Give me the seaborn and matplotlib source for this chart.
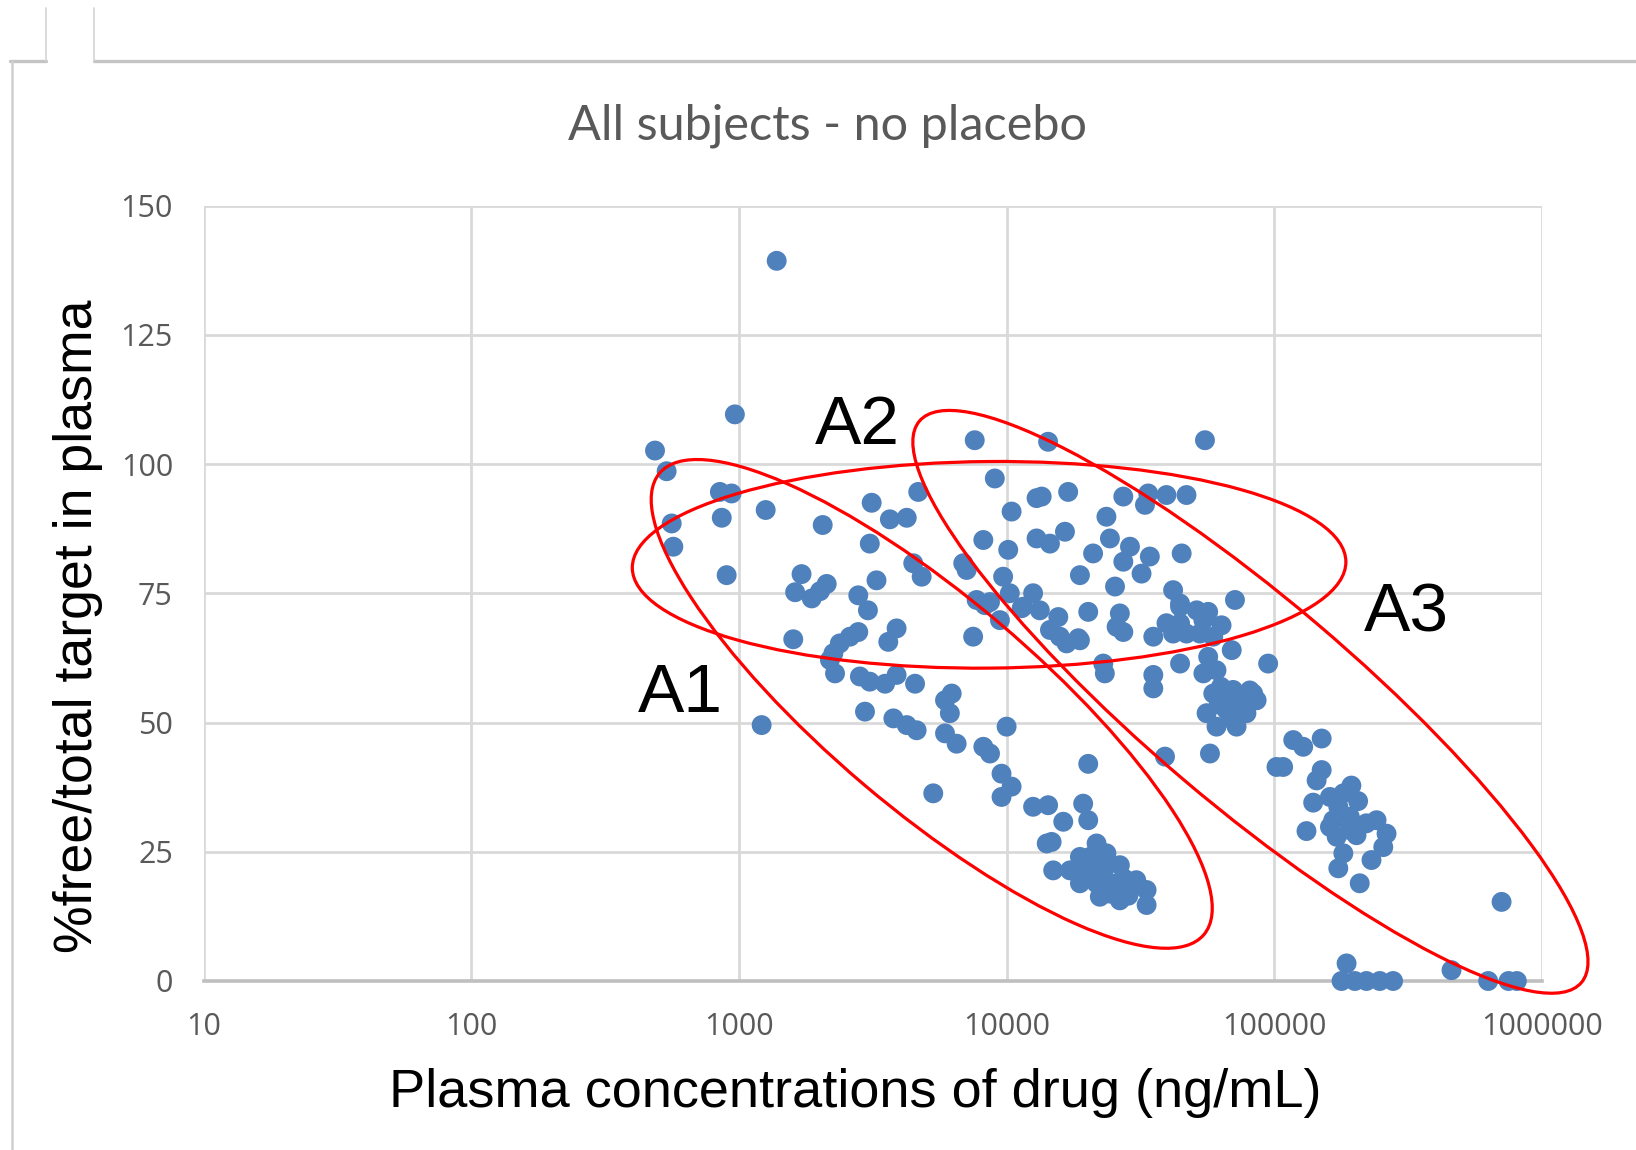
import numpy as np
import pandas as pd
import matplotlib
matplotlib.use("Agg")
import matplotlib.pyplot as plt
import seaborn as sns
from matplotlib.patches import Ellipse
from matplotlib.transforms import IdentityTransform
from matplotlib.lines import Line2D
from matplotlib.ticker import FixedLocator, FixedFormatter, NullLocator

# ---------------- data ----------------
# plasma concentration (ng/mL) and % free/total target, grouped by region of the cloud
conc_left = [1384, 966, 486, 537, 849, 939, 863, 561, 569, 900, 1259, 2056, 1216, 1596]
pct_left = [139.3, 109.6, 102.6, 98.6, 94.6, 94.3, 89.6, 88.5, 84.0, 78.5, 91.1, 88.2, 49.5, 66.1]

conc_mid = [1714, 1622, 1871, 2009, 2128, 3266, 2792, 3034, 2792, 2600, 2382, 2254, 2188, 2286,
            3882, 3614, 2831, 3083, 3516, 3882, 4550, 2958, 3776, 4236, 4613, 6237, 5888, 6138,
            5888, 6506, 7499, 8185, 8670, 9572, 10440, 9572, 10000, 9705, 10280, 7727, 8670,
            9441, 12560, 11530, 13310, 6887, 7092, 4480, 4816, 3083, 10140, 8185, 3133, 3664,
            4236, 4677, 7603, 9036, 5321]
pct_mid = [78.7, 75.2, 74.0, 75.4, 76.8, 77.5, 74.6, 71.7, 67.5, 66.6, 65.3, 63.4, 62.1, 59.5,
           68.2, 65.6, 58.9, 57.9, 57.5, 59.2, 57.5, 52.1, 50.8, 49.5, 48.5, 55.6, 54.3, 51.8,
           47.9, 45.9, 66.6, 45.3, 44.0, 40.1, 37.6, 35.6, 49.2, 78.2, 75.0, 73.7, 73.3,
           69.8, 75.0, 72.4, 71.7, 80.8, 79.5, 80.8, 78.2, 84.6, 83.4, 85.3, 92.5, 89.3,
           89.6, 94.6, 104.6, 97.2, 36.3]

conc_upper = [13520, 12940, 16980, 10440, 12940, 14520, 16520, 23600, 24320, 21040, 27290, 33810,
              32880, 39550, 46990, 28900, 27290, 34280, 31920, 45080, 18790, 25410, 8298, 11380,
              15600, 14520, 15810, 18530, 20180, 26490, 25760, 27290, 35320, 39550, 41880, 44460,
              14290, 55080, 44460, 51290, 56620, 63530, 41880, 46990, 52720, 59160, 54330, 71290,
              69340, 94840, 44460, 54330, 60830, 56620, 35320, 35320, 22960, 23280, 16750, 18790,
              44460]
pct_upper = [93.7, 93.4, 94.6, 90.8, 85.6, 84.6, 86.9, 89.8, 85.6, 82.7, 93.7, 94.3,
             92.1, 94.0, 94.0, 84.0, 81.1, 82.1, 78.8, 82.7, 78.5, 76.3, 72.7, 72.1,
             70.4, 67.9, 66.6, 66.3, 71.4, 71.1, 68.5, 67.5, 66.6, 69.2, 75.6, 73.0,
             104.3, 104.6, 72.4, 71.7, 71.4, 68.8, 67.2, 67.2, 67.2, 66.6, 69.8, 73.7,
             64.0, 61.4, 61.4, 59.5, 60.1, 62.7, 59.2, 56.6, 61.4, 59.5, 65.3, 65.9,
             69.2]

conc_fifty = [59160, 70150, 83370, 55850, 66370, 78700, 60830, 72280, 85900, 66370, 76560, 78700,
              63200, 57500, 39060, 20180, 62000, 70000, 75000, 68000, 81000]
pct_fifty = [55.6, 56.3, 55.6, 51.8, 52.4, 51.8, 49.2, 49.2, 54.3, 54.3, 54.3, 53.0,
             56.9, 44.0, 43.4, 42.0, 53.5, 50.5, 52.8, 55.4, 56.2]

conc_a1_low = [14290, 19320, 20180, 16280, 14730, 14930, 21680, 18790, 23600, 26490, 17250, 19910,
               22960, 18790, 21680, 25760, 29720, 33340, 22300, 26490, 33340, 24320, 20480, 12560,
               14120, 20500, 23000, 27500, 30500, 24800, 21500, 28500]
pct_a1_low = [34.0, 34.3, 31.1, 30.8, 26.9, 21.4, 26.6, 24.0, 24.7, 22.4, 21.4, 21.4,
              20.8, 18.9, 18.9, 18.9, 18.2, 17.6, 16.3, 15.6, 14.7, 16.9, 24.0, 33.7,
              26.6, 23.0, 22.5, 19.8, 19.5, 17.8, 20.0, 16.5]

conc_a3_low = [117700, 150300, 128200, 107900, 101900, 150300, 143900, 194100, 205600, 139700,
               161400, 181100, 173400, 131900, 166000, 191400, 220800, 241000, 262600, 171000,
               202800, 255300, 161400, 191400, 181100, 173400, 230700, 208500, 706300, 459200,
               186200, 178300, 200000, 220800, 247800, 277800, 629500, 749900, 805400]
pct_a3_low = [46.6, 46.9, 45.3, 41.4, 41.4, 40.8, 38.8, 37.8, 34.8, 34.5,
              35.6, 36.3, 33.7, 29.0, 31.1, 31.8, 30.5, 31.1, 28.5, 27.9,
              28.2, 25.9, 29.8, 29.2, 24.7, 21.8, 23.4, 18.9, 15.3, 2.1,
              3.4, 0, 0, 0, 0, 0, 0, 0, 0]

x_ticks = [10, 100, 1000, 10000, 100000, 1000000]
x_tick_labels = ["10", "100", "1000", "10000", "100000", "1000000"]
y_ticks = [0, 25, 50, 75, 100, 125, 150]
y_tick_labels = ["0", "25", "50", "75", "100", "125", "150"]

title = "All subjects - no placebo"
x_label = "Plasma concentrations of drug (ng/mL)"
y_label = "%free/total target in plasma"

# group annotations: label, label position (data), ellipse centre (data),
# semi-axes (px) and angle (deg)
groups = ["A1", "A2", "A3"]
label_x = [604, 2777, 311500]
label_y = [55.5, 107.4, 71.1]
ell_cx = [5252, 8602, 81430]
ell_cy = [53.6, 80.5, 54.0]
ell_a = [356.8, 356.8, 434.0]
ell_b = [105.4, 103.3, 102.6]
ell_ang = [-40.3, 0.5, -40.3]

# ---------------- figure ----------------
conc = conc_left + conc_mid + conc_upper + conc_fifty + conc_a1_low + conc_a3_low
pct = pct_left + pct_mid + pct_upper + pct_fifty + pct_a1_low + pct_a3_low
df = pd.DataFrame({"conc": conc, "pct": pct})

sns.set_theme(style="white")
plt.rcParams['font.family'] = ['Liberation Sans', 'DejaVu Sans']

W, H = 1636, 1150
fig = plt.figure(figsize=(W / 100, H / 100), dpi=100)
fig.patch.set_facecolor("white")
ax = fig.add_axes([203.5 / W, 1 - 981 / H, (1542 - 203.5) / W, (981 - 205.5) / H])

sns.scatterplot(data=df, x="conc", y="pct", ax=ax, s=205, color="#4f81bd",
                edgecolor="none", linewidth=0, clip_on=False, zorder=3, legend=False)

ax.set_xscale("log")
ax.set_xlim(10, 1e6)
ax.set_ylim(0, 150)
ax.xaxis.set_major_locator(FixedLocator(x_ticks))
ax.xaxis.set_major_formatter(FixedFormatter(x_tick_labels))
ax.xaxis.set_minor_locator(NullLocator())
ax.yaxis.set_major_locator(FixedLocator(y_ticks))
ax.yaxis.set_major_formatter(FixedFormatter(y_tick_labels))
ax.grid(True, color="#d9d9d9", linewidth=2.0, zorder=0)
ax.set_axisbelow(True)
for s in ["top", "right", "left"]:
    ax.spines[s].set_visible(False)
ax.spines["bottom"].set_color("#bfbfbf")
ax.spines["bottom"].set_linewidth(2.6)
ax.tick_params(axis="both", length=0, labelcolor="#595959", labelsize=22)
ax.tick_params(axis="x", pad=22)
ax.tick_params(axis="y", pad=22)
for lab in ax.get_xticklabels() + ax.get_yticklabels():
    lab.set_family(["Open Sans", "DejaVu Sans"])
ax.set_xlabel("")
ax.set_ylabel("")

fig.text(828 / W, 1 - 126 / H, title, ha="center", va="center", fontsize=35,
         color="#595959", family=["Lato", "DejaVu Sans"])
fig.text(855 / W, 1 - 1093 / H, x_label, ha="center", va="center", fontsize=39,
         color="black")
fig.text(78 / W, 1 - 626 / H, y_label, ha="center", va="center", fontsize=38.6,
         color="black", rotation=90)

# ellipses and group labels
for g, lx, ly, cx, cy, a, b, ang in zip(groups, label_x, label_y, ell_cx, ell_cy,
                                        ell_a, ell_b, ell_ang):
    px, py = ax.transData.transform((cx, cy))
    e = Ellipse((px, py), 2 * a, 2 * b, angle=ang, transform=IdentityTransform(),
                fill=False, edgecolor="#ff0000", linewidth=2.3, clip_on=False, zorder=5)
    ax.add_patch(e)
    ax.text(lx, ly, g, ha="center", va="center", fontsize=50, color="black", zorder=6)

# screenshot frame lines
def fline(x0, y0, x1, y1, c, lw):
    fig.add_artist(Line2D([x0 / W, x1 / W], [1 - y0 / H, 1 - y1 / H],
                          transform=fig.transFigure, color=c, linewidth=lw))

fline(10, 61, 46, 61, "#c4c4c4", 2.4)
fline(94, 61, W, 61, "#c4c4c4", 2.4)
fline(46, 8, 46, 61, "#d4d4d4", 1.2)
fline(94, 8, 94, 61, "#d4d4d4", 1.2)
fline(12, 61, 12, H, "#d0d0d0", 1.8)

fig.savefig("out.png", dpi=100, facecolor="white")
